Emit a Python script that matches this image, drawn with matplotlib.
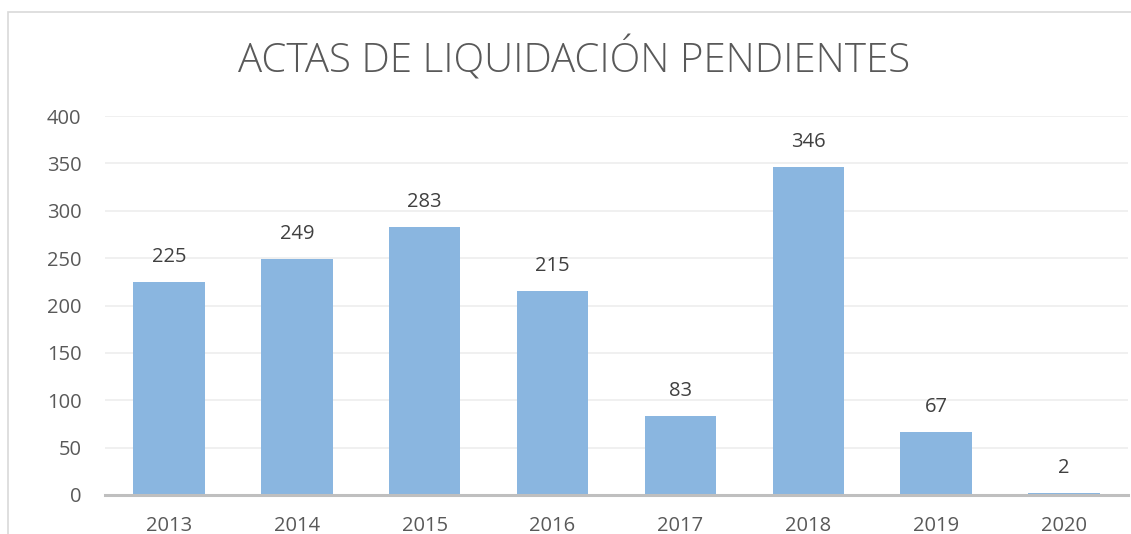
import matplotlib.pyplot as plt
from matplotlib.patches import Rectangle

# datos del gráfico
anios = ["2013", "2014", "2015", "2016", "2017", "2018", "2019", "2020"]
actas = [225, 249, 283, 215, 83, 346, 67, 2]
ticks_y = [0, 50, 100, 150, 200, 250, 300, 350, 400]

plt.rcParams['font.family'] = ['Open Sans', 'DejaVu Sans']

fig = plt.figure(figsize=(11.31, 5.34), dpi=100)

# marco del gráfico (recortado a la derecha y abajo)
fig.patches.append(Rectangle((8 / 1131, -0.1), 1.2, 1.1 - 12 / 534,
                             transform=fig.transFigure, fill=False,
                             edgecolor='#D9D9D9', linewidth=1.2))

ax = fig.add_axes([105 / 1131, 1 - 495 / 534, (1128 - 105) / 1131, (495 - 116) / 534])

x = range(len(anios))
ax.bar(x, actas, width=0.56, color='#8AB6E0', zorder=2)

# etiquetas de valor encima de cada barra
for xi, v in zip(x, actas):
    ax.annotate(str(v), (xi, v), xytext=(0, 18), textcoords='offset points',
                ha='center', va='center', fontsize=14.5, color='#404040')

ax.set_xlim(-0.5, len(anios) - 0.5)
ax.set_ylim(0, 400)
ax.set_yticks(ticks_y)
ax.set_xticks(list(x))
ax.set_xticklabels(anios)
ax.tick_params(axis='both', length=0, labelsize=14.5, labelcolor='#595959')
ax.tick_params(axis='x', pad=15)
ax.tick_params(axis='y', pad=17)

ax.grid(axis='y', color='#EDEDED', linewidth=1.2, zorder=0)
for s in ['top', 'right', 'left']:
    ax.spines[s].set_visible(False)
ax.spines['bottom'].set_color('#BFBFBF')
ax.spines['bottom'].set_linewidth(2.2)
ax.spines['bottom'].set_zorder(3)

fig.text(574 / 1131, 1 - 60 / 534, "ACTAS DE LIQUIDACIÓN PENDIENTES",
         ha='center', va='center', fontsize=29, color='#595959', fontweight='light')

fig.savefig("out.png", dpi=100, facecolor='white')
